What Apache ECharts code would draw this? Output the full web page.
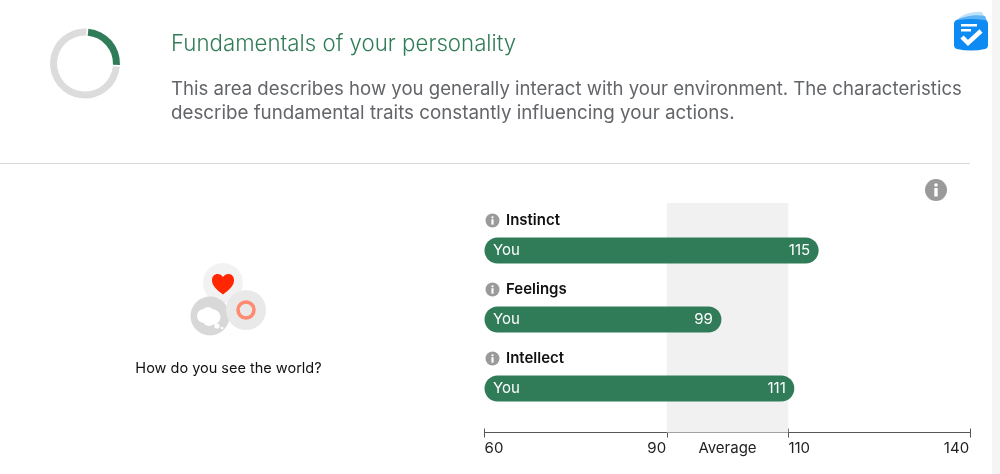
<!DOCTYPE html>
<html>
<head>
<meta charset="utf-8">
<title>Fundamentals of your personality</title>
<script src="https://cdn.jsdelivr.net/npm/echarts@6/dist/echarts.min.js"></script>
<style>
  html, body { margin: 0; padding: 0; background: #fff; }
  #main { width: 1000px; height: 474px; }
</style>
</head>
<body>
<div id="main"></div>
<script>
var categories = ['Instinct', 'Feelings', 'Intellect'];
var seriesName = 'You';
var scores = [115, 99, 111];
var averageRange = [90, 110];
var tickValues = [60, 90, 110, 140];
var labelValues = [60, 90, 100, 110, 140];
var progress = [25, 75];

var GREEN = '#317c58';
var FONT = 'Inter, "Noto Sans", sans-serif';

// small "i" badge, used next to the headings and top right
function infoIcon(cx, cy, r) {
  var u = r / 11;
  return [
    { type: 'circle', shape: { cx: cx, cy: cy, r: r }, style: { fill: '#9a9a9a' } },
    { type: 'circle', shape: { cx: cx, cy: cy - 5 * u, r: 1.8 * u }, style: { fill: '#fff' } },
    { type: 'rect', shape: { x: cx - 1.7 * u, y: cy - 2 * u, width: 3.4 * u, height: 8.5 * u }, style: { fill: '#fff' } }
  ];
}

// app badge and the illustration, path elements only work inside a custom series
function decorations() {
  return {
    type: 'group',
    children: [
      { type: 'path', shape: { pathData: 'M956 21 C960 15 972 11 982 12 L986 20 Z' }, style: { fill: '#bfe2fb' } },
      { type: 'path', shape: { pathData: 'M955 21 C961 17 974 14 985 16 L987 21 Z' }, style: { fill: '#5fb4f6' } },
      { type: 'path', shape: { pathData: 'M954 24 Q954 20 958 20 Q971 18 984 20 Q988 20 988 24 L988 45 Q988 48 985 49 Q971 52 957 49 Q954 48 954 45 Z' }, style: { fill: '#0d8bf2' } },
      { type: 'rect', shape: { x: 961, y: 24, width: 16, height: 2.5 }, style: { fill: '#fff' } },
      { type: 'rect', shape: { x: 961, y: 29, width: 10, height: 2.5 }, style: { fill: '#fff' } },
      { type: 'polyline', shape: { points: [[962, 37], [968, 43], [981, 31]] }, style: { stroke: '#fff', lineWidth: 4.5, fill: null } },

      { type: 'circle', shape: { cx: 223, cy: 283, r: 20 }, style: { fill: '#f2f2f2' } },
      { type: 'circle', shape: { cx: 210, cy: 316, r: 19.5 }, style: { fill: '#d8d8d8' } },
      { type: 'circle', shape: { cx: 246, cy: 310, r: 20 }, style: { fill: '#e9e9e9' } },
      { type: 'path', shape: { pathData: 'M223 294.5 C217 290 212 286 212 280 C212 273 220 272 223 277 C226 272 234 273 234 280 C234 286 229 290 223 294.5 Z' }, style: { fill: '#ff2600' } },
      { type: 'circle', shape: { cx: 246, cy: 310, r: 8 }, style: { fill: 'none', stroke: '#ff8a70', lineWidth: 3.5 } },
      { type: 'circle', shape: { cx: 204, cy: 316, r: 7 }, style: { fill: '#fff' } },
      { type: 'circle', shape: { cx: 208, cy: 313, r: 6 }, style: { fill: '#fff' } },
      { type: 'circle', shape: { cx: 213, cy: 317, r: 7.5 }, style: { fill: '#fff' } },
      { type: 'circle', shape: { cx: 209, cy: 320, r: 6 }, style: { fill: '#fff' } },
      { type: 'circle', shape: { cx: 217, cy: 326, r: 2.6 }, style: { fill: '#fff' } },
      { type: 'circle', shape: { cx: 222, cy: 328, r: 1.3 }, style: { fill: '#fff' } }
    ]
  };
}

var chart = echarts.init(document.getElementById('main'));

chart.setOption({
  animation: false,
  backgroundColor: '#fff',
  textStyle: { fontFamily: FONT },
  grid: { left: 484.5, width: 486, top: 216, height: 207 },
  xAxis: [{
    type: 'value',
    min: 60,
    max: 140,
    offset: 9.5,
    position: 'bottom',
    splitLine: { show: false },
    axisLine: { show: true, lineStyle: { color: '#555', width: 1 } },
    axisTick: { show: true, length: 5, customValues: tickValues, lineStyle: { color: '#555' } },
    axisLabel: {
      margin: 8,
      customValues: labelValues,
      formatter: function (v) {
        if (v === 60) return '{a|60}';
        if (v === 90) return '{b|90}';
        if (v === 100) return '{c|Average}';
        if (v === 110) return '{d|110}';
        return '{e|140}';
      },
      rich: {
        a: { fontSize: 15, fontFamily: FONT, color: '#222', padding: [0, 0, 0, 19] },
        b: { fontSize: 15, fontFamily: FONT, color: '#222', padding: [0, 20, 0, 0] },
        c: { fontSize: 15, fontFamily: FONT, color: '#222' },
        d: { fontSize: 15, fontFamily: FONT, color: '#222', padding: [0, 0, 0, 22] },
        e: { fontSize: 15, fontFamily: FONT, color: '#222', padding: [0, 28, 0, 0] }
      }
    }
  }, {
    type: 'value',
    min: 60,
    max: 140,
    offset: 9.5,
    position: 'bottom',
    splitLine: { show: false },
    axisLine: { show: false },
    axisLabel: { show: false },
    axisTick: { show: true, inside: true, length: 4, customValues: tickValues, lineStyle: { color: '#555' } }
  }],
  yAxis: {
    type: 'category',
    data: categories,
    inverse: true,
    axisLine: { show: false },
    axisTick: { show: false },
    axisLabel: { show: false }
  },
  series: [
    {
      // grey "Average" band
      type: 'custom',
      z: 1,
      silent: true,
      data: [averageRange],
      encode: { x: [0, 1] },
      renderItem: function (params, api) {
        var x0 = api.coord([api.value(0), 0])[0];
        var x1 = api.coord([api.value(1), 0])[0];
        return {
          type: 'rect',
          shape: { x: x0, y: params.coordSys.y - 13, width: x1 - x0, height: params.coordSys.height + 22.5 },
          style: { fill: '#f1f1f1' }
        };
      }
    },
    {
      // headings above the bars
      type: 'custom',
      z: 3,
      silent: true,
      data: categories.map(function (c, i) { return [60, i]; }),
      encode: { x: 0, y: 1 },
      renderItem: function (params, api) {
        var p = api.coord([api.value(0), api.value(1)]);
        return {
          type: 'group',
          children: infoIcon(p[0] + 8, p[1] - 30, 7).concat([{
            type: 'text',
            style: {
              x: p[0] + 21.5,
              y: p[1] - 30.5,
              text: categories[params.dataIndex],
              fontFamily: FONT,
              fontSize: 15,
              fontWeight: 600,
              fill: '#111',
              verticalAlign: 'middle'
            }
          }])
        };
      }
    },
    {
      name: seriesName,
      type: 'bar',
      z: 2,
      barWidth: 26,
      data: scores,
      itemStyle: { color: GREEN, borderRadius: 13 },
      label: {
        show: true,
        position: 'insideLeft',
        distance: 8.5,
        formatter: seriesName,
        fontFamily: FONT,
        fontSize: 15,
        color: '#fff'
      }
    },
    {
      name: 'score',
      type: 'bar',
      z: 3,
      barWidth: 26,
      barGap: '-100%',
      data: scores,
      itemStyle: { color: 'transparent' },
      label: {
        show: true,
        position: 'insideRight',
        distance: 8.5,
        fontFamily: FONT,
        fontSize: 15,
        color: '#fff'
      }
    },
    {
      // progress ring top left
      type: 'pie',
      silent: true,
      center: [85, 63.5],
      radius: [28, 35],
      startAngle: 86,
      padAngle: 3,
      label: { show: false },
      labelLine: { show: false },
      data: [
        { value: progress[0], itemStyle: { color: GREEN } },
        { value: progress[1], itemStyle: { color: '#dcdcdc' } }
      ]
    },
    {
      type: 'custom',
      coordinateSystem: 'none',
      silent: true,
      data: [0],
      renderItem: decorations
    }
  ],
  graphic: [
    { type: 'rect', shape: { x: 992, y: 0, width: 8, height: 474 }, style: { fill: '#f5f5f5' } },
    { type: 'text', style: { x: 171, y: 44, text: 'Fundamentals of your personality', fontFamily: FONT, fontSize: 22.25, fontWeight: 300, fill: GREEN, verticalAlign: 'middle' } },
    { type: 'text', style: { x: 171, y: 89.5, text: 'This area describes how you generally interact with your environment. The characteristics', fontFamily: FONT, fontSize: 18.6, fill: '#636569', verticalAlign: 'middle' } },
    { type: 'text', style: { x: 171, y: 113.5, text: 'describe fundamental traits constantly influencing your actions.', fontFamily: FONT, fontSize: 18.78, fill: '#636569', verticalAlign: 'middle' } },
    { type: 'line', shape: { x1: 0, y1: 163.5, x2: 970, y2: 163.5 }, style: { stroke: '#d9d9d9', lineWidth: 1 } },
    { type: 'group', children: infoIcon(936, 190, 11) },
    { type: 'text', style: { x: 228.5, y: 369, text: 'How do you see the world?', fontFamily: FONT, fontSize: 14.5, fill: '#111', align: 'center', verticalAlign: 'middle' } }
  ]
});
</script>
</body>
</html>
